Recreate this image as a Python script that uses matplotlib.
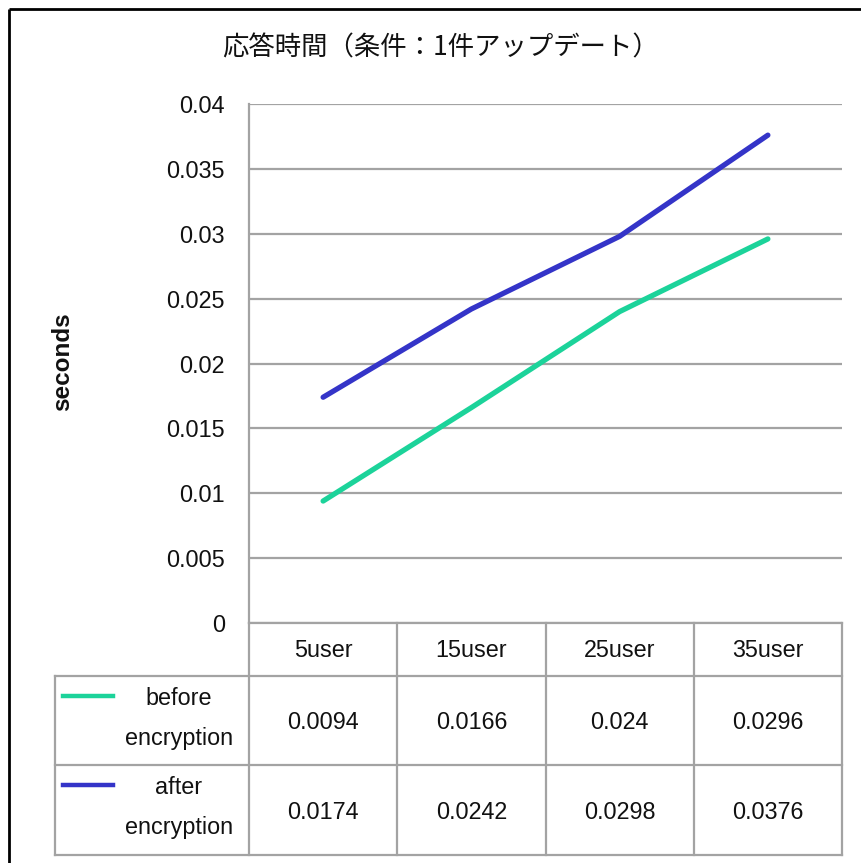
import matplotlib
matplotlib.use("Agg")
import matplotlib.pyplot as plt
from matplotlib.lines import Line2D

plt.rcParams['font.family'] = ['Liberation Sans', 'Noto Sans CJK JP', 'DejaVu Sans']

title = "応答時間（条件：1件アップデート）"
ylabel = "seconds"
categories = ["5user", "15user", "25user", "35user"]
series_names = [["before", "encryption"], ["after", "encryption"]]
before = [0.0094, 0.0166, 0.024, 0.0296]
after = [0.0174, 0.0242, 0.0298, 0.0376]
yticks = [0, 0.005, 0.01, 0.015, 0.02, 0.025, 0.03, 0.035, 0.04]
colors = ["#1cd39a", "#3434c8"]
grid_c = "#a3a3a3"

W, H = 861, 863
fig = plt.figure(figsize=(W / 100, H / 100), dpi=100)

# overlay in pixel coords
ov = fig.add_axes([0, 0, 1, 1], zorder=0)
ov.set_xlim(0, W)
ov.set_ylim(H, 0)
ov.axis('off')

L, R, T, B = 249, 842, 104, 623
ax = fig.add_axes([L / W, 1 - B / H, (R - L) / W, (B - T) / H], zorder=2)
ax.patch.set_alpha(0)
series = [before, after]
xs = list(range(len(categories)))
for vals, c in zip(series, colors):
    ax.plot(xs, vals, color=c, lw=3.8, solid_capstyle='round', zorder=3)
ax.set_xlim(-0.5, len(categories) - 0.5)
ax.set_ylim(0, 0.04)
ax.set_yticks(yticks)
ax.set_yticklabels([f"{v:g}" for v in yticks], fontsize=16.8, color='#111111')
ax.tick_params(axis='y', length=0, pad=17.3)
ax.set_xticks([])
for s in ['top', 'right', 'bottom']:
    ax.spines[s].set_visible(False)
ax.spines['left'].set_color(grid_c)
ax.spines['left'].set_linewidth(1.6)
ax.grid(axis='y', color=grid_c, lw=1.6)
ax.set_axisbelow(True)

# title & y label
fig.text(441 / W, 1 - 48 / H, title, ha='center', va='center', fontsize=19,
         family=['Noto Sans CJK JP', 'DejaVu Sans'], color='#111111')
fig.text(63 / W, 1 - 362 / H, ylabel, ha='center', va='center', rotation=90,
         fontsize=17.5, fontweight='bold', color='#111111')

# outer black frame
ov.plot([9, 9], [9, H + 5], color='black', lw=2.0, solid_capstyle='butt')
ov.plot([9, W + 5], [9, 9], color='black', lw=2.0, solid_capstyle='butt')

# table
ncol = len(categories)
colw = (R - L) / ncol
rows_y = [623, 676, 765, 855]
tab_left = 55
lw_t = 1.6
ov.plot([L, R], [rows_y[0]] * 2, color=grid_c, lw=lw_t)
for y in rows_y[1:]:
    ov.plot([tab_left, R], [y, y], color=grid_c, lw=lw_t)
for i in range(ncol + 1):
    x = L + i * colw
    ov.plot([x, x], [rows_y[0], rows_y[-1]], color=grid_c, lw=lw_t)
ov.plot([tab_left, tab_left], [rows_y[1], rows_y[-1]], color=grid_c, lw=lw_t)

fs = 16.8
for i, cat in enumerate(categories):
    ov.text(L + (i + 0.5) * colw, (rows_y[0] + rows_y[1]) / 2 + 1, cat,
            ha='center', va='center', fontsize=fs, color='#111111')
for r, vals in enumerate(series):
    yc = (rows_y[r + 1] + rows_y[r + 2]) / 2
    for i, v in enumerate(vals):
        ov.text(L + (i + 0.5) * colw, yc + 2, f"{v:g}", ha='center', va='center',
                fontsize=fs, color='#111111')
    ov.add_line(Line2D([63, 113], [rows_y[r + 1] + 20] * 2, color=colors[r], lw=3.2))
    ov.text(179, rows_y[r + 1] + 22, series_names[r][0], ha='center', va='center',
            fontsize=fs, color='#111111')
    ov.text(179, rows_y[r + 1] + 62, series_names[r][1], ha='center', va='center',
            fontsize=fs, color='#111111')

fig.savefig("out.png", dpi=100, facecolor='white')
